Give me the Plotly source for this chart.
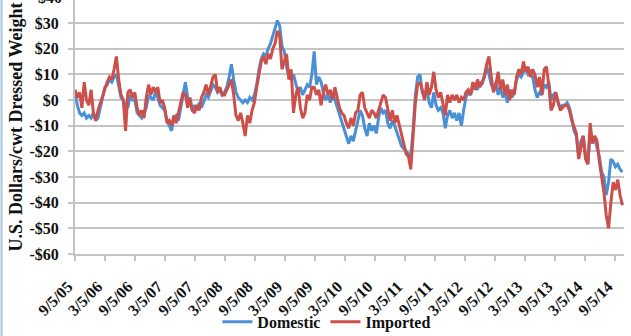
import pandas as pd
import plotly.graph_objects as go

# biweekly observations starting 9/5/05
start_date = "2005-09-05"

domestic = [
    3, -2, -5, -6, -5, -7, -6, -7, -5, -8, -7, -3, 1,
    5, 6, 8, 7, 9, 10, 5, 1, 0, -2, -3, 2, 0,
    0, -5, -6, -7, -5, -3, 2, 1, 0, 3, 1, -2, -3,
    -4, -8, -10, -12, -7, -6, -8, -3, 2, 7, 1, -1, -4,
    -2, -4, -1, -3, 0, 2, 1, 4, 6, 5, 3, 4, 2,
    3, 5, 9, 14, 8, 3, 1, 0, -1, 0, -1, 1, 0,
    2, 6, 12, 16, 18, 17, 20, 22, 25, 28, 31, 29, 21,
    19, 13, 9, 8, 10, 6, 3, 5, 2, 4, 6, 5, 10,
    19, 6, 9, 7, 3, 0, 2, -1, 3, 0, -2, -6, -8,
    -12, -15, -17, -14, -16, -12, -8, -4, -6, -11, -14, -9, -12,
    -10, -13, -7, -3, -5, -4, -9, -11, -8, -10, -13, -15, -18,
    -19, -20, -21, -22, -12, 2, 9, 10, 3, 1, 4, -1, -3,
    3, -2, -4, -3, -5, -11, -6, -4, -7, -5, -8, -5, -10,
    -4, 1, 3, 2, 5, 6, 4, 7, 6, 9, 13, 10, 6,
    4, 7, 2, 5, 1, 3, -1, 4, 1, 3, 8, 10, 9,
    11, 12, 10, 11, 9, 4, 1, 3, 2, 6, 5, 7, 0,
    2, 3, -1, -3, -2, -2, -1, -3, -7, -12, -14, -22, -16,
    -14, -22, -25, -13, -16, -15, -18, -22, -28, -30, -37, -32, -23,
    -24, -26, -25, -27, -28,
]

imported = [
    4, 1, 3, -3, 7, 0, -2, 4, -5, -8, -4, -1, 2,
    4, 7, 9, 8, 12, 17, 8, 2, 0, -12, 3, 4, 1,
    3, -3, -6, -4, -7, 1, 6, 2, 5, 3, 5, -1, 0,
    -3, -9, -8, -10, -6, -9, -5, -1, 3, 2, -3, 1, -4,
    -5, -2, -4, 1, 3, 6, 2, 5, 9, 10, 3, 5, 2,
    2, 4, 6, 8, 2, -6, -8, -5, -9, -14, -6, -9, -4,
    -1, 5, 10, 15, 17, 14, 18, 16, 20, 22, 27, 25, 12,
    15, 18, 8, 12, -5, 2, 5, -3, -7, -5, 2, 0, 5,
    5, 2, 4, -2, 3, 6, 2, 4, 0, 5, 1, -3, -5,
    -6, -9, -11, -7, -10, -5, -4, 2, 3, -3, -5, -7, -4,
    -5, -7, -4, 0, 2, 1, -3, -8, -4, -9, -6, -10, -14,
    -17, -21, -22, -27, -14, -1, 6, 7, 4, 0, 7, 2, 5,
    11, 4, 1, 3, -2, -6, 2, -1, 2, 0, 2, -1, 1,
    0, 3, 4, 2, 7, 4, 8, 5, 7, 9, 14, 17, 9,
    3, 6, 11, 4, 8, 2, 6, 0, 4, 2, 9, 12, 10,
    15, 11, 13, 9, 12, 10, 5, 9, 2, 12, 13, 6, -4,
    -2, 3, -1, -4, -3, -2, -2, -4, -8, -11, -13, -23, -18,
    -14, -23, -25, -9, -17, -14, -16, -24, -30, -36, -45, -50, -40,
    -32, -35, -31, -37, -41,
]

dates = pd.date_range(start_date, periods=len(domestic), freq="14D")

x_tick_dates = ["2005-09-05", "2006-03-05", "2006-09-05", "2007-03-05", "2007-09-05",
                "2008-03-05", "2008-09-05", "2009-03-05", "2009-09-05", "2010-03-05",
                "2010-09-05", "2011-03-05", "2011-09-05", "2012-03-05", "2012-09-05",
                "2013-03-05", "2013-09-05", "2014-03-05", "2014-09-05"]
x_tick_labels = ["9/5/05", "3/5/06", "9/5/06", "3/5/07", "9/5/07", "3/5/08", "9/5/08",
                 "3/5/09", "9/5/09", "3/5/10", "9/5/10", "3/5/11", "9/5/11", "3/5/12",
                 "9/5/12", "3/5/13", "9/5/13", "3/5/14", "9/5/14"]
y_tick_values = [-60, -50, -40, -30, -20, -10, 0, 10, 20, 30]
y_tick_labels = ["-$60", "-$50", "-$40", "-$30", "-$20", "-$10", "$0", "$10", "$20", "$30"]

FONT = "Liberation Serif"
BLUE = "#4A90D6"
RED = "#CD4F4A"
GRID = "#C4C4C4"

fig = go.Figure()
fig.add_trace(go.Scatter(x=dates, y=domestic, mode="lines", name="Domestic",
                         line=dict(color=BLUE, width=3)))
fig.add_trace(go.Scatter(x=dates, y=imported, mode="lines", name="Imported",
                         line=dict(color=RED, width=3)))

y_min, y_max = -60, 39

fig.update_layout(
    width=631, height=336,
    margin=dict(l=75, r=7, t=0, b=82, autoexpand=False),
    paper_bgcolor="white", plot_bgcolor="white",
    font=dict(family=FONT, size=16, color="#111111", weight="bold"),
    showlegend=True,
    legend=dict(orientation="h", xref="container", yref="container",
                x=0.518, xanchor="center", y=0.042, yanchor="middle",
                font=dict(family=FONT, size=16, color="#111111", weight="bold"),
                itemwidth=30, tracegroupgap=0, bgcolor="rgba(0,0,0,0)"),
    xaxis=dict(
        type="date", automargin=False,
        range=["2005-09-05", "2014-10-30"],
        tickmode="array", tickvals=x_tick_dates, ticktext=x_tick_labels,
        tickangle=-45, ticks="outside", ticklen=5, tickcolor=GRID, tickwidth=1.5,
        showgrid=False, showline=True, linecolor=GRID, linewidth=2,
        zeroline=False, ticklabelstandoff=10, ticklabelshift=-7,
        tickfont=dict(family=FONT, size=16, color="#111111", weight="bold"),
    ),
    yaxis=dict(
        automargin=False,
        range=[y_min, y_max],
        tickmode="array", tickvals=y_tick_values, ticktext=y_tick_labels,
        ticks="outside", ticklen=5, tickcolor=GRID, tickwidth=2,
        showgrid=True, gridcolor=GRID, gridwidth=2,
        showline=True, linecolor=GRID, linewidth=2, zeroline=False,
        ticklabelstandoff=6,
        tickfont=dict(family=FONT, size=16, color="#111111", weight="bold"),
        title=dict(text="U.S. Dollars/cwt Dressed Weight", standoff=2,
                   font=dict(family=FONT, size=18, color="#111111", weight="bold")),
    ),
)

# partially visible top tick label above plot area
fig.add_annotation(xref="paper", yref="paper", x=0, y=(40 - y_min) / (y_max - y_min),
                   text="$40", showarrow=False, xanchor="right", yanchor="middle",
                   xshift=-11, font=dict(family=FONT, size=16, color="#111111", weight="bold"))

# thin left border of the chart frame
fig.add_shape(type="line", xref="paper", yref="paper",
              x0=-0.1339, x1=-0.1339, y0=-0.4, y1=1.1,
              line=dict(color="#A9C6E3", width=2))

fig.write_html("out.html", config={"displayModeBar": False},
               post_script="document.body.style.margin='0';document.body.style.overflow='hidden';")
